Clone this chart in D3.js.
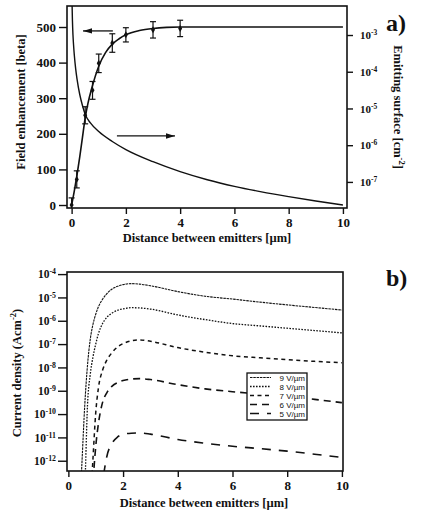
<!DOCTYPE html>
<html>
<head>
<meta charset="utf-8">
<script src="https://cdn.jsdelivr.net/npm/d3@7"></script>
<style>
  body { margin: 0; background: #fff; }
  svg text { font-family: "Liberation Serif", "Times New Roman", serif; font-weight: bold; fill: #111; }
  .legend text { font-family: "Liberation Sans", Arial, sans-serif; font-weight: normal; }
</style>
</head>
<body>
<svg id="chart" width="428" height="512"></svg>
<script>
// a) measured field enhancement with error bars
var betaDist = [0, 0.19, 0.5, 0.77, 1.0, 1.5, 2.0, 3.0, 4.0]
  , betaVal = [0, 72, 252, 322, 398, 455, 478, 492, 496]
  , betaErr = [20, 24, 24, 25, 26, 26, 20, 23, 23]

// a) fitted curve through the points
var fitDist = [0, 0.1, 0.2, 0.3, 0.4, 0.5, 0.6, 0.75, 1, 1.25, 1.5, 1.75, 2, 2.5, 3, 3.5, 4, 5, 6, 8, 10]
  , fitVal = [0, 40, 85, 135, 190, 245, 285, 330, 390, 428, 452, 467, 478, 490, 496, 499, 500, 500, 500, 500, 500]

// a) emitting surface, right axis (powers of ten, cm^-2)
var surfDist = [0.015, 0.03, 0.05, 0.07, 0.1, 0.15, 0.2, 0.3, 0.4, 0.5, 0.7, 1, 1.5, 2, 3, 4, 5, 6, 7, 8, 9, 10]
  , logSurf = [-2.1, -2.6, -3.0, -3.25, -3.55, -3.92, -4.2, -4.62, -4.92, -5.16, -5.4, -5.63, -5.9, -6.12, -6.45, -6.72, -6.94, -7.12, -7.27, -7.4, -7.52, -7.63]

// b) current density (powers of ten, A cm^-2) for each field
var jDist = [0.4, 0.5, 0.6, 0.7, 0.8, 0.9, 1.0, 1.1, 1.25, 1.4, 1.6, 1.8, 2.0, 2.3, 2.6, 3, 4, 5, 6, 7, 8, 9, 10]
  , logJ9 = [-14.5, -12.0, -9.6, -7.9, -6.8, -6.15, -5.72, -5.4, -5.08, -4.85, -4.64, -4.52, -4.45, -4.41, -4.43, -4.5, -4.75, -4.95, -5.07, -5.2, -5.32, -5.43, -5.54]
  , logJ8 = [-17, -15, -13.2, -9.6, -8.3, -7.55, -7.0, -6.55, -6.12, -5.86, -5.67, -5.55, -5.49, -5.44, -5.45, -5.5, -5.75, -5.95, -6.12, -6.22, -6.32, -6.42, -6.52]
  , logJ7 = [-19, -18, -17, -16, -14, -11.9, -9.95, -8.87, -8.12, -7.7, -7.36, -7.12, -6.98, -6.86, -6.82, -6.88, -7.15, -7.35, -7.5, -7.59, -7.67, -7.74, -7.8]
  , logJ6 = [-20, -19, -18, -17, -15.5, -13, -11.4, -10.4, -9.5, -9.1, -8.8, -8.65, -8.56, -8.5, -8.48, -8.52, -8.74, -8.92, -9.04, -9.14, -9.24, -9.37, -9.51]
  , logJ5 = [-22, -21, -20, -19, -18, -17, -16, -15, -13, -11.85, -11.25, -10.98, -10.87, -10.82, -10.81, -10.86, -11.09, -11.25, -11.38, -11.48, -11.59, -11.72, -11.86]

var fieldLabels = ['9 V/µm', '8 V/µm', '7 V/µm', '6 V/µm', '5 V/µm']
  , distTicks = [0, 2, 4, 6, 8, 10]
  , betaTicks = [0, 100, 200, 300, 400, 500]
  , surfTicks = [1e-3, 1e-4, 1e-5, 1e-6, 1e-7]
  , jTicks = [1e-4, 1e-5, 1e-6, 1e-7, 1e-8, 1e-9, 1e-10, 1e-11, 1e-12]

var svg = d3.select('svg#chart')
  , defs = svg.append('defs')
  , pow10 = function(e) { return Math.pow(10, e) }

// plot boxes
var boxA = {x0: 67, x1: 347, y0: 6, y1: 208}
  , boxB = {x0: 67, x1: 343, y0: 272, y1: 471}

defs.append('clipPath').attr('id', 'clipA').append('rect')
  .attr('x', boxA.x0).attr('y', boxA.y0).attr('width', boxA.x1 - boxA.x0).attr('height', boxA.y1 - boxA.y0)
defs.append('clipPath').attr('id', 'clipB').append('rect')
  .attr('x', boxB.x0).attr('y', boxB.y0).attr('width', boxB.x1 - boxB.x0).attr('height', boxB.y1 - boxB.y0)
defs.append('marker').attr('id', 'arrow')
  .attr('viewBox', '0 0 10 6').attr('refX', 10).attr('refY', 3)
  .attr('markerWidth', 9).attr('markerHeight', 6)
  .attr('markerUnits', 'userSpaceOnUse').attr('orient', 'auto')
  .append('path').attr('d', 'M0,0L10,3L0,6Z').attr('fill', '#111')

// turns 1e-5 into 10 with a raised -5
var powLabels = function(g) {
  g.selectAll('.tick text').each(function(d) {
    var t = d3.select(this).text('10')
    t.append('tspan').attr('dy', '-0.5em').attr('font-size', '0.68em').text(Math.round(Math.log10(d)))
  })
}

var styleAxis = function(g, size) {
  g.attr('font-size', size).attr('font-family', null)
  g.select('.domain').remove()
  g.selectAll('.tick line').attr('stroke', '#111').attr('stroke-width', 1.4)
}

var frame = function(box) {
  svg.append('rect')
    .attr('x', box.x0).attr('y', box.y0)
    .attr('width', box.x1 - box.x0).attr('height', box.y1 - box.y0)
    .attr('fill', 'none').attr('stroke', '#111').attr('stroke-width', 1.6)
}

// ---------- panel a) ----------
var xA = d3.scaleLinear().domain([-0.17, 10.15]).range([boxA.x0, boxA.x1])
  , yBeta = d3.scaleLinear().domain([-8.4, 559]).range([boxA.y1, boxA.y0])
  , ySurf = d3.scaleLog().domain([pow10(-7.71), pow10(-2.21)]).range([boxA.y1, boxA.y0])

svg.append('g').attr('transform', 'translate(0,' + boxA.y1 + ')')
  .call(d3.axisBottom(xA).tickValues(distTicks).tickSize(6).tickPadding(4))
  .call(styleAxis, 13)
svg.append('g').attr('transform', 'translate(' + boxA.x0 + ',0)')
  .call(d3.axisLeft(yBeta).tickValues(betaTicks).tickSize(8).tickPadding(3))
  .call(styleAxis, 13)
svg.append('g').attr('transform', 'translate(' + boxA.x1 + ',0)')
  .call(d3.axisRight(ySurf).tickValues(surfTicks).tickSize(6).tickPadding(7))
  .call(styleAxis, 11)
  .call(powLabels)

var plotA = svg.append('g').attr('clip-path', 'url(#clipA)')

var fitLine = d3.line()
  .x(function(d, i) { return xA(fitDist[i]) })
  .y(function(d) { return yBeta(d) })
  .curve(d3.curveMonotoneX)
plotA.append('path').datum(fitVal).attr('d', fitLine)
  .attr('fill', 'none').attr('stroke', '#111').attr('stroke-width', 1.6)

var surfLine = d3.line()
  .x(function(d, i) { return xA(surfDist[i]) })
  .y(function(d) { return ySurf(pow10(d)) })
  .curve(d3.curveMonotoneX)
plotA.append('path').datum(logSurf).attr('d', surfLine)
  .attr('fill', 'none').attr('stroke', '#111').attr('stroke-width', 1.4)

// error bars and points
var pts = plotA.selectAll('g.pt').data(betaVal).enter().append('g').attr('class', 'pt')
pts.append('line')
  .attr('x1', function(d, i) { return xA(betaDist[i]) })
  .attr('x2', function(d, i) { return xA(betaDist[i]) })
  .attr('y1', function(d, i) { return yBeta(d - betaErr[i]) })
  .attr('y2', function(d, i) { return yBeta(d + betaErr[i]) })
  .attr('stroke', '#111').attr('stroke-width', 1.2)
;[-1, 1].forEach(function(s) {
  pts.append('line')
    .attr('x1', function(d, i) { return xA(betaDist[i]) - 3 })
    .attr('x2', function(d, i) { return xA(betaDist[i]) + 3 })
    .attr('y1', function(d, i) { return yBeta(d + s * betaErr[i]) })
    .attr('y2', function(d, i) { return yBeta(d + s * betaErr[i]) })
    .attr('stroke', '#111').attr('stroke-width', 1.2)
})
pts.append('path')
  .attr('transform', function(d, i) { return 'translate(' + xA(betaDist[i]) + ',' + yBeta(d) + ')' })
  .attr('d', d3.symbol().type(d3.symbolDiamond).size(14))
  .attr('fill', '#111')

// arrows telling which axis each curve belongs to
svg.append('line')
  .attr('x1', xA(1.52)).attr('x2', xA(0.42)).attr('y1', yBeta(489)).attr('y2', yBeta(489))
  .attr('stroke', '#111').attr('stroke-width', 1.3).attr('marker-end', 'url(#arrow)')
svg.append('line')
  .attr('x1', xA(1.67)).attr('x2', xA(3.81)).attr('y1', yBeta(194)).attr('y2', yBeta(194))
  .attr('stroke', '#111').attr('stroke-width', 1.3).attr('marker-end', 'url(#arrow)')

frame(boxA)

svg.append('text').attr('x', 207).attr('y', 242).attr('text-anchor', 'middle')
  .attr('font-size', 12.5).text('Distance between emitters [µm]')
svg.append('text').attr('transform', 'translate(25,102) rotate(-90)').attr('text-anchor', 'middle')
  .attr('font-size', 12.5).text('Field enhancement [beta]')
var surfTitle = svg.append('text').attr('transform', 'translate(394,107) rotate(90)')
  .attr('text-anchor', 'middle').attr('font-size', 12.5)
surfTitle.append('tspan').text('Emitting surface [cm')
surfTitle.append('tspan').attr('dy', -5).attr('font-size', 8.5).text('-2')
surfTitle.append('tspan').attr('dy', 5).text(']')
svg.append('text').attr('x', 386).attr('y', 31).attr('font-size', 24).text('a)')

// ---------- panel b) ----------
var xB = d3.scaleLinear().domain([-0.05, 10.04]).range([boxB.x0, boxB.x1])
  , yJ = d3.scaleLog().domain([pow10(-12.44), pow10(-3.91)]).range([boxB.y1, boxB.y0])

svg.append('g').attr('transform', 'translate(0,' + boxB.y1 + ')')
  .call(d3.axisBottom(xB).tickValues(distTicks).tickSize(6).tickPadding(4))
  .call(styleAxis, 13)
svg.append('g').attr('transform', 'translate(' + boxB.x0 + ',0)')
  .call(d3.axisLeft(yJ).tickValues(jTicks).tickSize(9).tickPadding(2))
  .call(styleAxis, 11.5)
  .call(powLabels)

var series = [logJ9, logJ8, logJ7, logJ6, logJ5]
  , dashes = ['2.5,0.8', '1.6,1.4', '4,3.5', '7,5', '9,8']
  , widths = [1.1, 1.3, 1.5, 1.6, 1.6]

var jLine = d3.line()
  .x(function(d, i) { return xB(jDist[i]) })
  .y(function(d) { return yJ(pow10(d)) })
  .curve(d3.curveMonotoneX)

svg.append('g').attr('clip-path', 'url(#clipB)')
  .selectAll('path').data(series).enter().append('path')
  .attr('d', jLine)
  .attr('fill', 'none').attr('stroke', '#111')
  .attr('stroke-width', function(d, i) { return widths[i] })
  .attr('stroke-dasharray', function(d, i) { return dashes[i] })

frame(boxB)

// legend
var legend = svg.append('g').attr('class', 'legend')
legend.append('rect').attr('x', 247).attr('y', 373).attr('width', 60).attr('height', 47)
  .attr('fill', '#fff').attr('stroke', '#111').attr('stroke-width', 1.3)
var rows = legend.selectAll('g.row').data(fieldLabels).enter().append('g').attr('class', 'row')
  .attr('transform', function(d, i) { return 'translate(0,' + (377.5 + i * 9) + ')' })
rows.append('line').attr('x1', 250).attr('x2', 271).attr('y1', 0).attr('y2', 0)
  .attr('stroke', '#111')
  .attr('stroke-width', function(d, i) { return widths[i] })
  .attr('stroke-dasharray', function(d, i) { return dashes[i] })
rows.append('text').attr('x', 305).attr('y', 3).attr('text-anchor', 'end')
  .attr('font-size', 8).text(function(d) { return d })

svg.append('text').attr('x', 204).attr('y', 507).attr('text-anchor', 'middle')
  .attr('font-size', 12.5).text('Distance between emitters [µm]')
var jTitle = svg.append('text').attr('transform', 'translate(21,373) rotate(-90)')
  .attr('text-anchor', 'middle').attr('font-size', 12.5)
jTitle.append('tspan').text('Current density (Acm')
jTitle.append('tspan').attr('dy', -5).attr('font-size', 8.5).text('-2')
jTitle.append('tspan').attr('dy', 5).text(')')
svg.append('text').attr('x', 386).attr('y', 286).attr('font-size', 24).text('b)')
</script>
</body>
</html>
